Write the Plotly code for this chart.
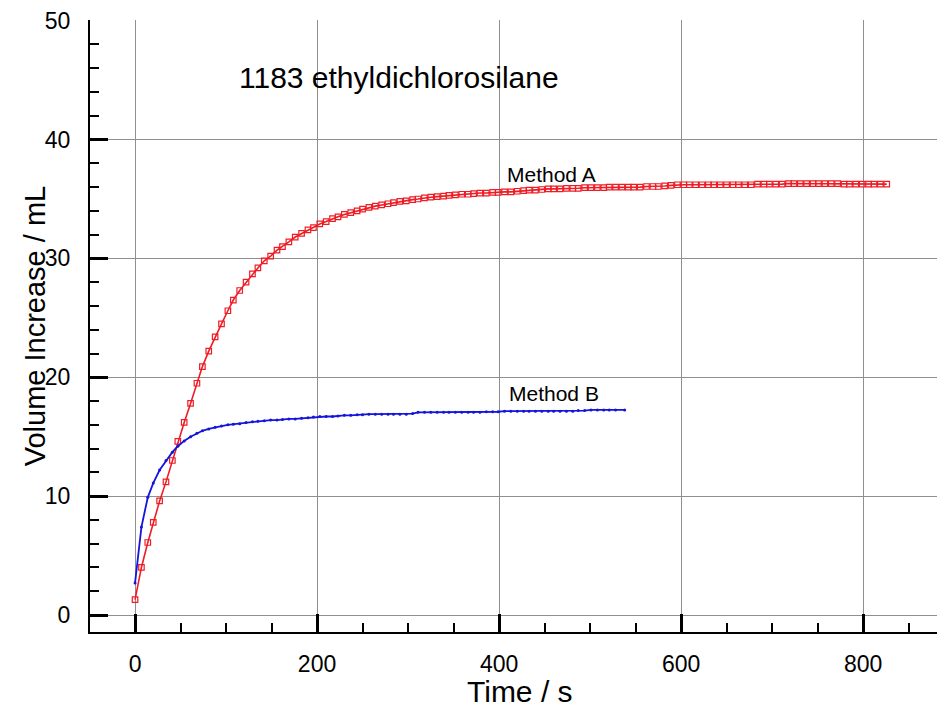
import plotly.graph_objects as go

# ---- data ----
time_a = [0, 7, 14, 20, 27, 34, 41, 47, 54, 61, 68, 74, 81, 88, 95, 102, 108, 115, 122, 129,
          135, 142, 149, 156, 162, 169, 176, 183, 190, 196, 203, 210, 217, 223, 230, 237, 244, 250, 257, 264,
          271, 278, 284, 291, 298, 305, 311, 318, 325, 332, 339, 345, 352, 359, 366, 372, 379, 386, 393, 399,
          406, 413, 420, 427, 433, 440, 447, 454, 460, 467, 474, 481, 487, 494, 501, 508, 515, 521, 528, 535,
          542, 548, 555, 562, 569, 575, 582, 589, 596, 603, 609, 616, 623, 630, 636, 643, 650, 657, 663, 670,
          677, 684, 691, 697, 704, 711, 718, 724, 731, 738, 745, 751, 758, 765, 772, 779, 785, 792, 799, 806,
          812, 819, 826]
vol_a = [1.3, 4.0, 6.1, 7.8, 9.6, 11.2, 13.0, 14.6, 16.2, 17.8, 19.5, 20.9, 22.2, 23.4, 24.5, 25.6, 26.5, 27.3, 28.0, 28.7,
         29.2, 29.8, 30.2, 30.7, 31.0, 31.4, 31.8, 32.1, 32.4, 32.6, 32.9, 33.1, 33.35, 33.5, 33.7, 33.85, 34.0, 34.15, 34.3, 34.4,
         34.5, 34.6, 34.7, 34.8, 34.85, 34.95, 35.0, 35.1, 35.15, 35.2, 35.25, 35.3, 35.35, 35.4, 35.4, 35.45, 35.5, 35.5, 35.55, 35.55,
         35.6, 35.6, 35.65, 35.7, 35.75, 35.75, 35.8, 35.85, 35.85, 35.85, 35.9, 35.9, 35.9, 35.95, 35.95, 35.95, 35.95, 36.0, 36.0, 36.0,
         36.0, 36.0, 36.0, 36.05, 36.05, 36.05, 36.1, 36.15, 36.2, 36.2, 36.2, 36.2, 36.2, 36.2, 36.2, 36.2, 36.2, 36.2, 36.2, 36.2,
         36.2, 36.25, 36.25, 36.25, 36.25, 36.25, 36.3, 36.3, 36.3, 36.3, 36.3, 36.3, 36.3, 36.3, 36.3, 36.25, 36.25, 36.25, 36.25, 36.25,
         36.25, 36.25, 36.25]

time_b = [0, 7, 14, 20, 27, 34, 41, 47, 54, 61, 68, 74, 81, 88, 95, 102, 108, 115, 122, 129,
          135, 142, 149, 156, 162, 169, 176, 183, 190, 196, 203, 210, 217, 223, 230, 237, 244, 250, 257, 264,
          271, 278, 284, 291, 298, 305, 311, 318, 325, 332, 339, 345, 352, 359, 366, 372, 379, 386, 393, 399,
          406, 413, 420, 427, 433, 440, 447, 454, 460, 467, 474, 481, 487, 494, 501, 508, 515, 521, 528, 538]
vol_b = [2.7, 7.4, 9.9, 11.1, 12.2, 13.0, 13.7, 14.2, 14.65, 15.0, 15.3, 15.5, 15.65, 15.8, 15.9, 16.0, 16.05, 16.1, 16.2, 16.25,
         16.3, 16.35, 16.4, 16.4, 16.45, 16.5, 16.5, 16.55, 16.6, 16.65, 16.7, 16.7, 16.7, 16.75, 16.8, 16.8, 16.85, 16.85, 16.9, 16.9,
         16.9, 16.9, 16.9, 16.9, 16.9, 16.95, 17.05, 17.05, 17.05, 17.05, 17.05, 17.05, 17.05, 17.05, 17.05, 17.05, 17.05, 17.1, 17.1, 17.1,
         17.15, 17.15, 17.15, 17.15, 17.15, 17.15, 17.15, 17.15, 17.15, 17.15, 17.15, 17.15, 17.2, 17.2, 17.25, 17.25, 17.25, 17.25, 17.25, 17.25]

x_ticks = [0, 200, 400, 600, 800]
y_ticks = [0, 10, 20, 30, 40, 50]
chart_title = "1183 ethyldichlorosilane"
label_a = "Method A"
label_b = "Method B"
x_title = "Time / s"
y_title = "Volume Increase / mL"

FONT = "Liberation Sans, Arial, Helvetica, sans-serif"

fig = go.Figure()
fig.add_trace(go.Scatter(
    x=time_a, y=vol_a, mode="lines+markers", name=label_a,
    line=dict(color="#ee1c25", width=1.6),
    marker=dict(symbol="square-open", size=5.5, color="#ee1c25", line=dict(width=1.2, color="#ee1c25")),
    showlegend=False))
fig.add_trace(go.Scatter(
    x=time_b, y=vol_b, mode="lines+markers", name=label_b,
    line=dict(color="#1414dc", width=1.8),
    marker=dict(symbol="circle", size=3, color="#1414dc"),
    showlegend=False))

fig.add_annotation(x=112, y=45.2, xref="x", yref="y", text=chart_title, showarrow=False,
                   xanchor="left", yanchor="middle", font=dict(family=FONT, size=30, color="black"))
fig.add_annotation(x=406, y=37.1, xref="x", yref="y", text=label_a, showarrow=False,
                   xanchor="left", yanchor="middle", font=dict(family=FONT, size=21, color="black"))
fig.add_annotation(x=409, y=18.6, xref="x", yref="y", text=label_b, showarrow=False,
                   xanchor="left", yanchor="middle", font=dict(family=FONT, size=21, color="black"))

# axis titles placed as paper annotations
fig.add_annotation(x=0.503, y=-0.097, xref="paper", yref="paper", text=x_title, showarrow=False,
                   xanchor="center", yanchor="middle", font=dict(family=FONT, size=30, color="black"))
fig.add_annotation(x=-0.064, y=0.50, xref="paper", yref="paper", text=y_title, showarrow=False,
                   textangle=-90, xanchor="center", yanchor="middle",
                   font=dict(family=FONT, size=29, color="black"))

# the page body adds an 8 px offset, so the figure is 8 px smaller and margins are shifted
fig.update_layout(
    width=937, height=700,
    margin=dict(l=82, r=0, t=12, b=76, pad=0),
    paper_bgcolor="white", plot_bgcolor="white",
    font=dict(family=FONT, color="black"),
    xaxis=dict(
        range=[-49.5, 890], tickvals=x_ticks, ticktext=[str(v) for v in x_ticks],
        ticks="inside", ticklen=18, tickwidth=3, tickcolor="black",
        minor=dict(dtick=50, tick0=0, ticks="inside", ticklen=9, tickwidth=1.5, tickcolor="black", showgrid=False),
        showgrid=True, gridcolor="#8f8f8f", gridwidth=1,
        zeroline=False, showline=True, linecolor="black", linewidth=2,
        tickfont=dict(family=FONT, size=23), ticklabelstandoff=10,
        ticklabeloverflow="allow",
        automargin=False,
    ),
    yaxis=dict(
        range=[-1.43, 50.06], tickvals=y_ticks, ticktext=[str(v) for v in y_ticks],
        ticks="inside", ticklen=18, tickwidth=3, tickcolor="black",
        minor=dict(dtick=2, tick0=0, ticks="inside", ticklen=9, tickwidth=1.5, tickcolor="black", showgrid=False),
        showgrid=True, gridcolor="#8f8f8f", gridwidth=1,
        zeroline=False, showline=True, linecolor="black", linewidth=2,
        tickfont=dict(family=FONT, size=23), ticklabelstandoff=13,
        ticklabeloverflow="allow",
        automargin=False,
    ),
)

fig.write_html("out.html")
